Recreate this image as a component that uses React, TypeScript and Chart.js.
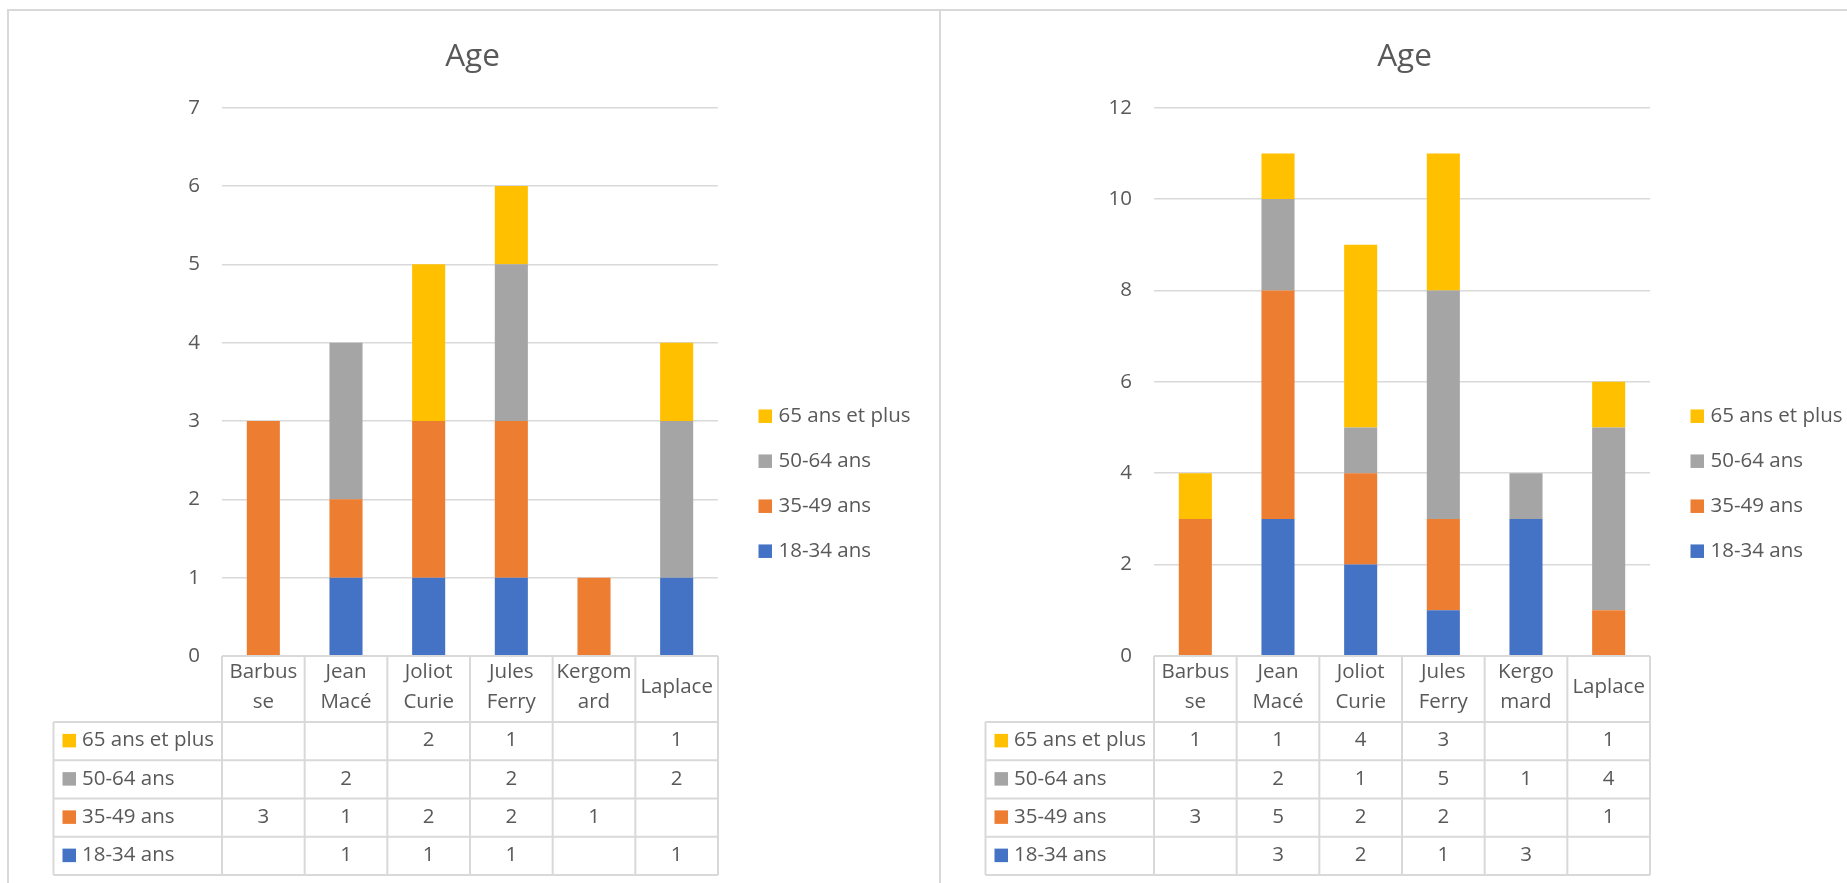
import React, { useEffect, useRef } from 'react';
import { Chart, registerables } from 'chart.js';

Chart.register(...registerables);

// ---- Data ----------------------------------------------------------------

const SERIES_NAMES = ['18-34 ans', '35-49 ans', '50-64 ans', '65 ans et plus'];

// First survey
const CATEGORIES_A = [
  ['Barbus', 'se'],
  ['Jean', 'Macé'],
  ['Joliot', 'Curie'],
  ['Jules', 'Ferry'],
  ['Kergom', 'ard'],
  ['Laplace'],
];
const A_18_34 = [null, 1, 1, 1, null, 1];
const A_35_49 = [3, 1, 2, 2, 1, null];
const A_50_64 = [null, 2, null, 2, null, 2];
const A_65_PLUS = [null, null, 2, 1, null, 1];
const A_Y_MAX = 7;
const A_Y_STEP = 1;

// Second survey
const CATEGORIES_B = [
  ['Barbus', 'se'],
  ['Jean', 'Macé'],
  ['Joliot', 'Curie'],
  ['Jules', 'Ferry'],
  ['Kergo', 'mard'],
  ['Laplace'],
];
const B_18_34 = [null, 3, 2, 1, 3, null];
const B_35_49 = [3, 5, 2, 2, null, 1];
const B_50_64 = [null, 2, 1, 5, 1, 4];
const B_65_PLUS = [1, 1, 4, 3, null, 1];
const B_Y_MAX = 12;
const B_Y_STEP = 2;

const CHART_TITLE = 'Age';

// ---- Styling -------------------------------------------------------------

const SERIES_COLORS = ['#4472C4', '#ED7D31', '#A5A5A5', '#FFC000'];
const FONT = '"Open Sans", sans-serif';
const FONT_SIZE = 20.5;
const TITLE_SIZE = 31.5;
const TEXT_COLOR = '#595959';
const LINE_COLOR = '#d9d9d9';

const CANVAS_W = 929;
const CANVAS_H = 874;

// Data table under the plot and legend on the right, drawn from the chart's
// own datasets and x scale.
const tableLegendPlugin = {
  id: 'tableLegend',
  afterDraw(chart: any) {
    const { ctx, chartArea } = chart;
    const xs = chart.scales.x;
    const labels = chart.data.labels as (string | string[])[];
    const datasets = chart.data.datasets;
    const n = labels.length;
    const left = chartArea.left;
    const right = chartArea.right;
    const top = chartArea.bottom;
    const colW = n > 1 ? xs.getPixelForValue(1) - xs.getPixelForValue(0) : right - left;
    const headH = 66;
    const rowH = 38.25;
    const labelW = 168.5;
    const rowsTop = top + headH;
    const tableBottom = rowsTop + datasets.length * rowH;
    const key = 13.5;

    ctx.save();
    ctx.strokeStyle = LINE_COLOR;
    ctx.lineWidth = 2;
    ctx.beginPath();
    ctx.moveTo(left, top);
    ctx.lineTo(right, top);
    for (let k = 0; k <= datasets.length; k++) {
      const y = rowsTop + k * rowH;
      ctx.moveTo(left - labelW, y);
      ctx.lineTo(right, y);
    }
    ctx.moveTo(left - labelW, rowsTop);
    ctx.lineTo(left - labelW, tableBottom);
    for (let i = 0; i <= n; i++) {
      const x = i === n ? xs.getPixelForValue(n - 1) + colW / 2 : xs.getPixelForValue(i) - colW / 2;
      ctx.moveTo(x, top);
      ctx.lineTo(x, tableBottom);
    }
    ctx.stroke();

    ctx.font = `${FONT_SIZE}px ${FONT}`;
    ctx.fillStyle = TEXT_COLOR;
    ctx.textBaseline = 'middle';
    ctx.textAlign = 'center';

    // category headers
    labels.forEach((lab, i) => {
      const lines = Array.isArray(lab) ? lab : [lab];
      const cx = xs.getPixelForValue(i);
      const y0 = top + 31.5 - (lines.length - 1) * 15;
      lines.forEach((ln, j) => ctx.fillText(ln, cx, y0 + j * 30));
    });

    // series rows, last series on top
    const order = datasets.map((_: any, i: number) => i).reverse();
    order.forEach((dsIndex: number, r: number) => {
      const ds = datasets[dsIndex];
      const cy = rowsTop + r * rowH + rowH / 2 - 0.5;
      ctx.fillStyle = ds.backgroundColor;
      ctx.fillRect(left - labelW + 9, cy - key / 2, key, key);
      ctx.fillStyle = TEXT_COLOR;
      ctx.textAlign = 'left';
      ctx.fillText(ds.label, left - labelW + 28.5, cy);
      ctx.textAlign = 'center';
      ds.data.forEach((v: number | null, i: number) => {
        if (v === null || v === undefined) return;
        ctx.fillText(String(v), xs.getPixelForValue(i), cy);
      });
    });

    // legend
    const lx = right + 40.5;
    const ly0 = chartArea.top + 308.5;
    order.forEach((dsIndex: number, r: number) => {
      const ds = datasets[dsIndex];
      const y = ly0 + r * 45;
      ctx.fillStyle = ds.backgroundColor;
      ctx.fillRect(lx, y - key / 2, key, key);
      ctx.fillStyle = TEXT_COLOR;
      ctx.textAlign = 'left';
      ctx.fillText(ds.label, lx + 20, y);
    });
    ctx.restore();
  },
};

type Props = {
  left: number;
  categories: string[][];
  series: (number | null)[][];
  yMax: number;
  yStep: number;
};

function AgeChart({ left, categories, series, yMax, yStep }: Props) {
  const ref = useRef<HTMLCanvasElement | null>(null);

  useEffect(() => {
    const canvas = ref.current;
    if (!canvas) return;
    const chart = new Chart(canvas, {
      type: 'bar',
      data: {
        labels: categories,
        datasets: series.map((values, i) => ({
          label: SERIES_NAMES[i],
          data: values,
          backgroundColor: SERIES_COLORS[i],
          borderWidth: 0,
          barPercentage: 0.4,
          categoryPercentage: 1,
        })),
      },
      options: {
        responsive: false,
        animation: false,
        events: [],
        layout: { padding: { left: 0, top: 0, right: 0, bottom: CANVAS_H - 647 } },
        scales: {
          x: { stacked: true, display: false },
          y: {
            stacked: true,
            min: 0,
            max: yMax,
            ticks: {
              stepSize: yStep,
              padding: 22,
              color: TEXT_COLOR,
              font: { family: FONT, size: FONT_SIZE },
            },
            grid: { color: LINE_COLOR, lineWidth: 1.5, drawTicks: false },
            border: { display: false },
            afterFit: (scale: any) => {
              scale.width = 214;
            },
          },
          // blank band on the right, where the legend sits
          legendSpace: {
            type: 'linear',
            position: 'right',
            display: true,
            ticks: { display: false },
            grid: { display: false, drawTicks: false },
            border: { display: false },
            afterFit: (scale: any) => {
              scale.width = 219;
            },
          },
        },
        plugins: {
          legend: { display: false },
          tooltip: { enabled: false },
          title: {
            display: true,
            text: CHART_TITLE,
            color: TEXT_COLOR,
            font: { family: FONT, size: TITLE_SIZE, weight: 'normal' },
            padding: { top: 29, bottom: 31.9 },
          },
        },
      },
      plugins: [tableLegendPlugin],
    } as any);
    return () => chart.destroy();
  }, [categories, series, yMax, yStep]);

  return (
    <canvas
      ref={ref}
      width={CANVAS_W}
      height={CANVAS_H}
      style={{ position: 'absolute', left, top: 9, width: CANVAS_W, height: CANVAS_H }}
    />
  );
}

const SERIES_A = [A_18_34, A_35_49, A_50_64, A_65_PLUS];
const SERIES_B = [B_18_34, B_35_49, B_50_64, B_65_PLUS];

export default function App() {
  return (
    <div
      style={{
        position: 'fixed',
        left: 0,
        top: 0,
        width: 1847,
        height: 883,
        overflow: 'hidden',
        background: '#ffffff',
      }}
    >
      <AgeChart left={8} categories={CATEGORIES_A} series={SERIES_A} yMax={A_Y_MAX} yStep={A_Y_STEP} />
      <AgeChart left={940} categories={CATEGORIES_B} series={SERIES_B} yMax={B_Y_MAX} yStep={B_Y_STEP} />
      {/* panel frames */}
      <div style={{ position: 'absolute', left: 7, top: 9, width: 1840, height: 2, background: LINE_COLOR }} />
      <div style={{ position: 'absolute', left: 7, top: 9, width: 2, height: 874, background: LINE_COLOR }} />
      <div style={{ position: 'absolute', left: 939, top: 9, width: 2, height: 874, background: LINE_COLOR }} />
    </div>
  );
}
